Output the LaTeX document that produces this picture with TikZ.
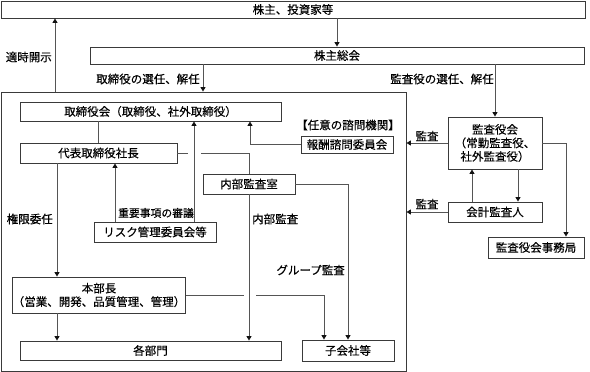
\documentclass[tikz,border=0pt]{standalone}
\usepackage{fontspec}
\setmainfont{Noto Sans CJK JP}[FakeBold=0.35]
\usepackage{xcolor}
\definecolor{cBox}{HTML}{3A3A3A}
\definecolor{cLine}{HTML}{555555}
\definecolor{cTip}{HTML}{111111}
\usetikzlibrary{arrows.meta}
\tikzset{
  node-box/.style={draw=cBox,line width=0.9pt,fill=white,inner sep=0pt,
    align=center,font=\fontsize{11.5}{13.5}\selectfont},
  node-label/.style={inner sep=0pt,font=\fontsize{11.5}{13.5}\selectfont},
  line-plain/.style={line width=0.9pt,draw=cLine},
  arrow/.style={line-plain,-{Triangle[length=4.5pt,width=5pt,color=cTip]}},
}

\begin{document}
\begin{tikzpicture}[x=1pt,y=-1pt]
  \useasboundingbox (0,0) rectangle (590,372);
  % outer frame of the company
  \node[node-box,minimum width=405,minimum height=279] (frame) at (203.5,231.5) {};
  % boxes
  \node[node-box,minimum width=584,minimum height=17] (top) at (293,9.5) {株主、投資家等};
  \node[node-box,minimum width=494,minimum height=17] (soukai) at (337,55.5) {株主総会};
  \node[node-box,minimum width=261,minimum height=19] (board) at (150.5,111.5) {取締役会（取締役、社外取締役）};
  \node[node-box,minimum width=157,minimum height=20] (ceo) at (98.5,153) {代表取締役社長};
  \node[node-box,minimum width=92,minimum height=20] (audit) at (249,184) {内部監査室};
  \node[node-box,minimum width=122,minimum height=20] (risk) at (155,232) {リスク管理委員会等};
  \node[node-box,minimum width=92,minimum height=17] (reward) at (347,144.5) {報酬諮問委員会};
  \node[node-box,minimum width=94,minimum height=52] (kansayaku) at (495,143) {監査役会\\（常勤監査役、\\社外監査役）};
  \node[node-box,minimum width=94,minimum height=20] (kaikei) at (495,212) {会計監査人};
  \node[node-box,minimum width=96,minimum height=21] (jimukyoku) at (536,247.5) {監査役会事務局};
  \node[node-box,minimum width=158,minimum height=36] (honbu) at (99,295) {本部長\\（営業、開発、品質管理、管理）};
  \node[node-box,minimum width=261,minimum height=19] (bumon) at (150.5,350.5) {各部門};
  \node[node-box,minimum width=92,minimum height=21] (kogaisha) at (348,350.5) {子会社等};
  % labels
  \node[node-label,anchor=east] (lDisclose) at (52,57) {適時開示};
  \node[node-label,anchor=east] (lBoardSel) at (200,79) {取締役の選任、解任};
  \node[node-label,anchor=east] (lAuditSel) at (494,79) {監査役の選任、解任};
  \node[node-label] (lAdvisory) at (348,125) {【任意の諮問機関】};
  \node[node-label] (lAuditA) at (427,136) {監査};
  \node[node-label] (lAuditB) at (427,204) {監査};
  \node[node-label,font=\fontsize{10.8}{12}\selectfont] (lDeliber) at (156,213) {重要事項の審議};
  \node[node-label,anchor=west] (lInternal) at (252,219) {内部監査};
  \node[node-label,anchor=east] (lDelegate) at (53,219) {権限委任};
  \node[node-label,anchor=east] (lGroup) at (345,270) {グループ監査};
  % connectors
  \draw[arrow] (frame.north -| 55,0) -- (top.south -| 55,0);
  \draw[arrow] (top.south -| soukai.north) -- (soukai.north);
  \draw[arrow] (soukai.south -| 203,0) -- (frame.north -| 203,0);
  \draw[arrow] (soukai.south -| kansayaku.north) -- (kansayaku.north);
  \draw[line-plain] (ceo.north) -- (ceo.north |- board.south);
  \draw[line-plain] (ceo.east) -- (ceo.east -| 188,0);
  \draw[line-plain] (ceo.east -| 201,0) -| (audit.north);
  \draw[arrow] (risk.north -| 115,0) -- (ceo.south -| 115,0);
  \draw[arrow] (risk.north -| 194,0) -- (board.south -| 194,0);
  \draw[arrow] (reward.west) -| (board.south -| 250,0);
  \draw[arrow] (audit.east) -| (kogaisha.north);
  \draw[arrow] (audit.south) -- (audit.south |- bumon.north);
  \draw[arrow] (ceo.south -| 57,0) -- (honbu.north -| 57,0);
  \draw[arrow] (honbu.south -| 57,0) -- (bumon.north -| 57,0);
  \draw[line-plain] (honbu.east) -- (honbu.east -| 244,0);
  \draw[arrow] (honbu.east -| 256,0) -| (kogaisha.north -| 324,0);
  \draw[arrow] (kansayaku.west) -- (kansayaku.west -| frame.east);
  \draw[arrow] (kaikei.west) -- (kaikei.west -| frame.east);
  \draw[arrow] (kaikei.north -| 472,0) -- (kansayaku.south -| 472,0);
  \draw[arrow] (kansayaku.south -| 518,0) -- (kaikei.north -| 518,0);
  \draw[arrow] (kansayaku.east) -| (jimukyoku.north -| 566,0);
\end{tikzpicture}
\end{document}
